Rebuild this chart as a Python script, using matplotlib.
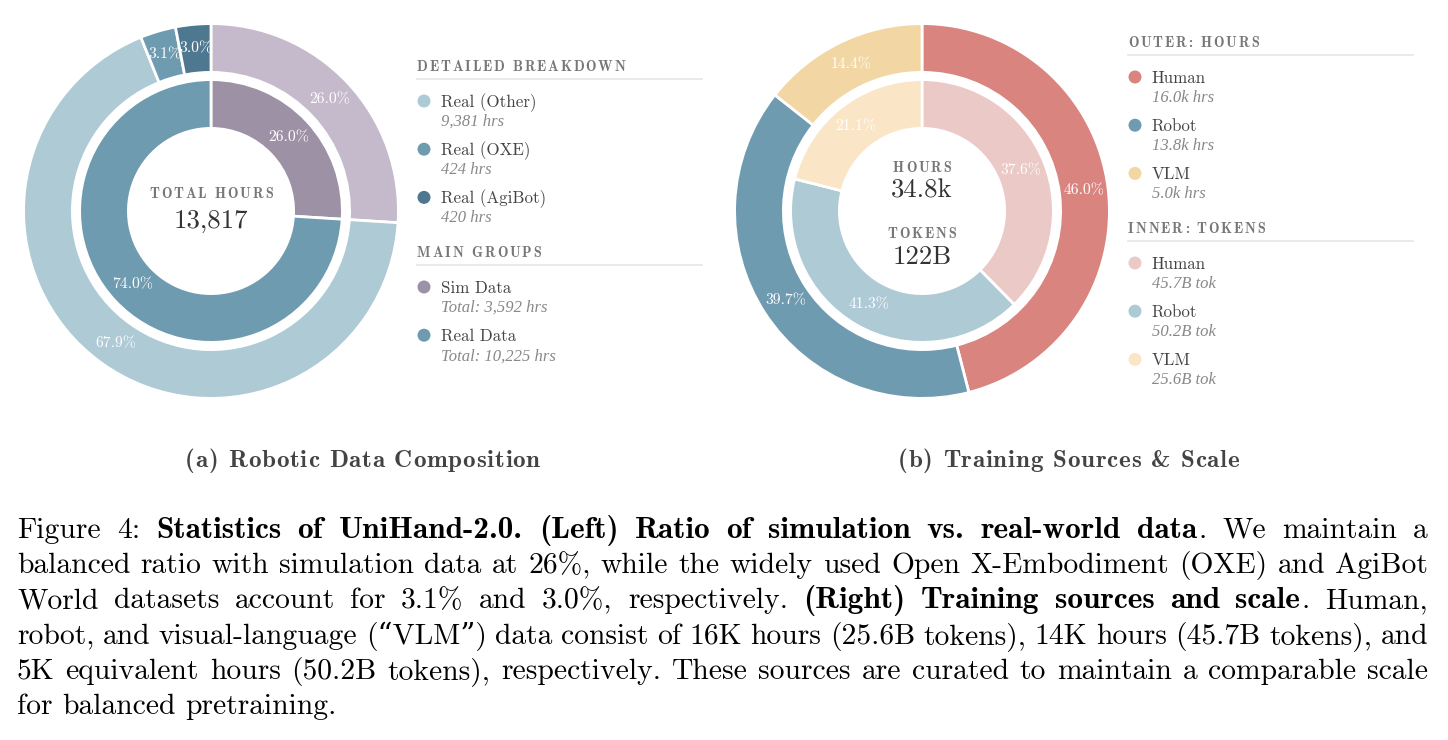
import matplotlib
matplotlib.use("Agg")
import matplotlib.pyplot as plt
from matplotlib.patches import Circle

W, H = 1448, 740

# ---- data (a): robotic data composition, hours ----
group_labels = ["Sim Data", "Real Data"]
group_hours = [3592, 10225]
group_colors = ["#9D91A6", "#6F9BB1"]
sim_outer_color = "#C4BACB"

comp_labels = ["Real (Other)", "Real (OXE)", "Real (AgiBot)"]
comp_hours = [9381, 424, 420]
comp_colors = ["#AECAD5", "#6F9BB1", "#4E7890"]

# ---- data (b): training sources ----
src_labels = ["Human", "Robot", "VLM"]
src_hours_k = [16.0, 13.8, 5.0]
src_tokens_b = [45.7, 50.2, 25.6]
hours_colors = ["#D9847E", "#6F9BB1", "#F2D7A5"]
token_colors = ["#EBC9C7", "#AECAD5", "#FAE6C7"]

subtitles = ["(a) Robotic Data Composition", "(b) Training Sources & Scale"]
caption_lines = [
    "Figure 4: **Statistics of UniHand-2.0. (Left) Ratio of simulation vs. real-world data**. We maintain a",
    "balanced ratio with simulation data at 26%, while the widely used Open X-Embodiment (OXE) and AgiBot",
    "World datasets account for 3.1% and 3.0%, respectively. **(Right) Training sources and scale**. Human,",
    "robot, and visual-language (\u201cVLM\u201d) data consist of 16K hours (25.6B tokens), 14K hours (45.7B tokens), and",
    "5K equivalent hours (50.2B tokens), respectively. These sources are curated to maintain a comparable scale",
    "for balanced pretraining.",
]

RM = ["cmr10", "DejaVu Serif"]
BF = ["cmb10", "DejaVu Serif"]
IT = ["Liberation Serif"]

fig = plt.figure(figsize=(W / 100, H / 100), dpi=100)
ax = fig.add_axes([0, 0, 1, 1])
renderer = fig.canvas.get_renderer()


def Y(y):
    # pixel rows (top-down) -> data y (bottom-up)
    return H - y


def width(s, **kw):
    t = ax.text(0, 0, s, **kw)
    w = t.get_window_extent(renderer).width
    t.remove()
    return w


def spaced(x, y, s, track, ha="left", **kw):
    """Letter-spaced text (headers, subtitles)."""
    total = width(s, **kw) + track * (len(s) - 1)
    if ha == "center":
        x -= total / 2
    for i, ch in enumerate(s):
        if ch == " ":
            continue
        off = width(s[: i + 1], **kw) - width(ch, **kw) + track * i
        ax.text(x + off, Y(y), ch, ha="left", va="baseline", **kw)


HEAD = dict(family=BF, fontsize=10.2, color="#777777")
HEAD_TRACK = 1.8
R_OUT, R_IN, RING = 187.4, 131.4, 48.8


def donut(cx, cy, outer_vals, outer_cols, inner_vals, inner_cols):
    common = dict(startangle=90, counterclock=False, autopct="%1.1f%%", frame=True,
                  textprops=dict(color="white", fontsize=11.3, family=RM))
    ax.pie(outer_vals, colors=outer_cols, radius=R_OUT, center=(cx, Y(cy)),
           pctdistance=0.87,
           wedgeprops=dict(width=RING, edgecolor="white", linewidth=2), **common)
    ax.pie(inner_vals, colors=inner_cols, radius=R_IN, center=(cx, Y(cy)),
           pctdistance=0.815,
           wedgeprops=dict(width=RING, edgecolor="white", linewidth=2), **common)


def legend_block(x0, x1, head_y, title, labels, subs, colors):
    spaced(x0, head_y, title, HEAD_TRACK, **HEAD)
    ax.plot([x0, x1], [Y(head_y + 8)] * 2, color="#e6e6e6", lw=1.2)
    for i, (lab, sub, c) in enumerate(zip(labels, subs, colors)):
        yc = head_y + 30 + 48.2 * i
        ax.add_patch(Circle((x0 + 7, Y(yc)), 6.5, color=c, lw=0))
        ax.text(x0 + 24, Y(yc + 6), lab, family=RM, fontsize=12.2,
                color="#444444", va="baseline")
        ax.text(x0 + 24, Y(yc + 25), sub, family=IT, style="italic",
                fontsize=12, color="#888888", va="baseline")


# ---- (a) ----
total_hours = sum(group_hours)
donut(211, 211, [group_hours[0]] + comp_hours, [sim_outer_color] + comp_colors,
      group_hours, group_colors)
spaced(211, 198, "TOTAL HOURS", HEAD_TRACK, ha="center", **HEAD)
ax.text(211, Y(228), f"{total_hours:,}", family=RM, fontsize=19.3,
        color="#333333", ha="center", va="baseline")

legend_block(417, 702, 71, "DETAILED BREAKDOWN", comp_labels,
             [f"{h:,} hrs" for h in comp_hours], comp_colors)
legend_block(417, 702, 257, "MAIN GROUPS", group_labels,
             [f"Total: {h:,} hrs" for h in group_hours], group_colors)

# ---- (b) ----
donut(922, 211, src_hours_k, hours_colors, src_tokens_b, token_colors)
spaced(922, 172, "HOURS", HEAD_TRACK, ha="center", **HEAD)
ax.text(922, Y(197), f"{sum(src_hours_k):.1f}k", family=RM, fontsize=19.3,
        color="#333333", ha="center", va="baseline")
spaced(922, 238, "TOKENS", HEAD_TRACK, ha="center", **HEAD)
ax.text(922, Y(264), f"{int(sum(src_tokens_b) + 0.5)}B", family=RM, fontsize=19.3,
        color="#333333", ha="center", va="baseline")

legend_block(1128, 1413, 47, "OUTER: HOURS", src_labels,
             [f"{h:.1f}k hrs" for h in src_hours_k], hours_colors)
legend_block(1128, 1413, 233, "INNER: TOKENS", src_labels,
             [f"{t:.1f}B tok" for t in src_tokens_b], token_colors)

# ---- subtitles ----
for cx, s in zip([362.5, 1068.5], subtitles):
    spaced(cx, 467, s, 0.8, ha="center", family=BF, fontsize=18, color="#444444")


# ---- justified caption ----
def parse(line):
    words, cur, seg, bold, i = [], [], "", False, 0
    while i < len(line):
        if line.startswith("**", i):
            if seg:
                cur.append((seg, bold))
                seg = ""
            bold = not bold
            i += 2
            continue
        ch = line[i]
        if ch == " ":
            if seg:
                cur.append((seg, bold))
                seg = ""
            if cur:
                words.append(cur)
                cur = []
        else:
            seg += ch
        i += 1
    if seg:
        cur.append((seg, bold))
    if cur:
        words.append(cur)
    return words


CAP_FS = 21.3
cap_x0, cap_x1 = 17, 1428
space_w = width("a a", family=RM, fontsize=CAP_FS) - width("aa", family=RM, fontsize=CAP_FS)
for k, line in enumerate(caption_lines):
    yb = Y(538 + 35.2 * k)
    words = parse(line)
    objs, widths = [], []
    for wd in words:
        segs, ww = [], 0.0
        for j, (s, b) in enumerate(wd):
            if j:
                ww += 1.5
            t = ax.text(0, yb, s, fontsize=CAP_FS * (1.06 if b else 1.0),
                        family=BF if b else RM,
                        color="black", ha="left", va="baseline")
            segs.append((t, ww))
            ww += t.get_window_extent(renderer).width
        objs.append(segs)
        widths.append(ww)
    if k == len(caption_lines) - 1:
        gap = space_w
    else:
        gap = (cap_x1 - cap_x0 - sum(widths)) / (len(words) - 1)
    x = cap_x0
    for segs, ww in zip(objs, widths):
        for t, off in segs:
            t.set_x(x + off)
        x += ww + gap

ax.set_xlim(0, W)
ax.set_ylim(0, H)
ax.axis("off")
fig.savefig("out.png", dpi=100, facecolor="white")
